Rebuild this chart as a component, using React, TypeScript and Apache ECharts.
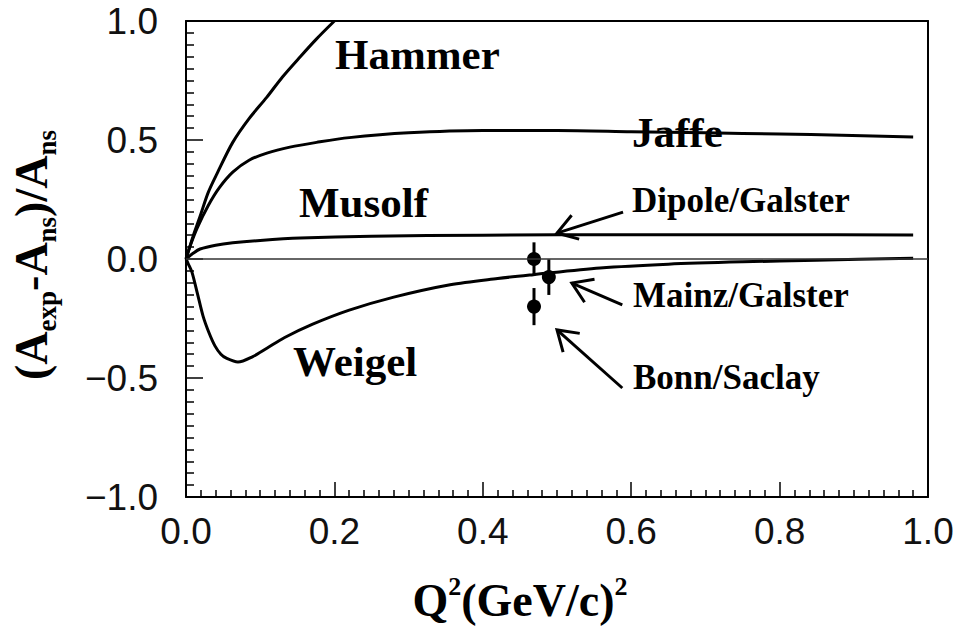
import React, { useEffect, useRef } from "react";
import * as echarts from "echarts";

// ---- data (Q^2 in (GeV/c)^2, asymmetry ratio) ----
const hammer: number[][] = [
  [0, 0], [0.005, 0.05], [0.01, 0.1], [0.019, 0.18], [0.03, 0.28], [0.042, 0.36],
  [0.063, 0.49], [0.085, 0.59], [0.109, 0.68], [0.13, 0.765], [0.154, 0.85],
  [0.176, 0.925], [0.2, 1.0],
];
const jaffe: number[][] = [
  [0, 0], [0.005, 0.05], [0.015, 0.13], [0.03, 0.225], [0.045, 0.3], [0.063, 0.365],
  [0.085, 0.415], [0.109, 0.445], [0.14, 0.47], [0.176, 0.49], [0.22, 0.51],
  [0.3, 0.53], [0.4, 0.54], [0.5, 0.54], [0.6, 0.535], [0.7, 0.53], [0.8, 0.525],
  [0.884, 0.52], [0.98, 0.513],
];
const dipole: number[][] = [
  [0, 0], [0.01, 0.025], [0.019, 0.042], [0.04, 0.058], [0.063, 0.068], [0.1, 0.078],
  [0.154, 0.088], [0.25, 0.096], [0.4, 0.1], [0.6, 0.102], [0.8, 0.102], [0.98, 0.101],
];
const weigel: number[][] = [
  [0, 0], [0.003, -0.02], [0.008, -0.055], [0.015, -0.14], [0.023, -0.24],
  [0.031, -0.31], [0.039, -0.365], [0.047, -0.4], [0.055, -0.418], [0.07, -0.433],
  [0.09, -0.41], [0.109, -0.375], [0.133, -0.33], [0.17, -0.275], [0.22, -0.215],
  [0.28, -0.16], [0.356, -0.108], [0.42, -0.082], [0.468, -0.066], [0.558, -0.038],
  [0.65, -0.022], [0.75, -0.012], [0.85, -0.005], [0.98, 0.003],
];
// [Q2, value, error]
const measurements: number[][] = [
  [0.469, 0.0, 0.07],
  [0.489, -0.076, 0.075],
  [0.469, -0.2, 0.078],
];

// curve names and their text positions (layout)
const curveLabels = [
  { text: "Hammer", x: 335, y: 54, size: 43 },
  { text: "Jaffe", x: 632, y: 132, size: 43 },
  { text: "Musolf", x: 299, y: 202, size: 43 },
  { text: "Weigel", x: 293, y: 361, size: 43 },
  { text: "Dipole/Galster", x: 632, y: 200, size: 35 },
  { text: "Mainz/Galster", x: 633, y: 295, size: 35 },
  { text: "Bonn/Saclay", x: 633, y: 377, size: 35 },
];

// arrows in data coordinates: [tailX, tailY, tipX, tipY]
const arrows: number[][] = [
  [0.589, 0.197, 0.5, 0.109],
  [0.588, -0.193, 0.52, -0.101],
  [0.588, -0.542, 0.5, -0.298],
];

const SERIF = "'Liberation Serif', 'Times New Roman', serif";
const SANS = "'Liberation Sans', Arial, sans-serif";

const fmt = (v: number) => v.toFixed(1).replace("-", "\u2212");

const tickStyle = { color: "#000", width: 1.5 };

export default function App() {
  const ref = useRef<HTMLDivElement>(null);
  useEffect(() => {
    if (!ref.current) return;
    const chart = echarts.init(ref.current, undefined, { renderer: "svg" });
    const lineSeries = (name: string, data: number[][], extra: any = {}) => ({
      name,
      type: "line",
      data,
      showSymbol: false,
      smooth: 0.3,
      clip: true,
      lineStyle: { color: "#000", width: 3 },
      silent: true,
      ...extra,
    });
    const frameAxis = (position: string) => ({
      type: "value", position, min: position === "top" ? 0 : -1, max: 1,
      axisLine: { show: true, onZero: false, lineStyle: { color: "#000", width: 2 } },
      axisTick: { show: false }, axisLabel: { show: false }, splitLine: { show: false },
    });
    chart.setOption({
      animation: false,
      backgroundColor: "#fff",
      grid: { left: 186, top: 21, width: 742, height: 476, show: false },
      xAxis: [
        {
          type: "value", position: "bottom", min: 0, max: 1, interval: 0.2,
          axisLine: { show: true, onZero: false, lineStyle: { color: "#000", width: 2 } },
          axisTick: { show: true, inside: true, length: 15, lineStyle: tickStyle },
          minorTick: { show: true, splitNumber: 10, length: 7, lineStyle: tickStyle },
          splitLine: { show: false },
          minorSplitLine: { show: false },
          axisLabel: { show: true, formatter: fmt, fontFamily: SANS, fontSize: 37, color: "#111", margin: 16 },
        },
        frameAxis("top"),
      ],
      yAxis: [
        {
          type: "value", position: "left", min: -1, max: 1, interval: 0.5,
          axisLine: { show: true, onZero: false, lineStyle: { color: "#000", width: 2 } },
          axisTick: { show: true, inside: true, length: 17, lineStyle: tickStyle },
          minorTick: { show: true, splitNumber: 10, length: 8, lineStyle: tickStyle },
          splitLine: { show: false },
          minorSplitLine: { show: false },
          axisLabel: { show: true, formatter: fmt, fontFamily: SANS, fontSize: 37, color: "#111", margin: 28 },
        },
        frameAxis("right"),
      ],
      series: [
        lineSeries("Hammer", hammer),
        lineSeries("Jaffe", jaffe),
        lineSeries("Dipole/Galster", dipole, {
          markLine: {
            silent: true, symbol: "none", label: { show: false },
            lineStyle: { color: "#333", width: 1.5, type: "solid" },
            data: [{ yAxis: 0 }],
          },
        }),
        lineSeries("Weigel", weigel),
        {
          name: "errors",
          type: "custom",
          data: measurements,
          encode: { x: 0, y: 1 },
          silent: true,
          renderItem: (_p: any, api: any) => {
            const x = api.value(0), y = api.value(1), e = api.value(2);
            const a = api.coord([x, y + e]);
            const b = api.coord([x, y - e]);
            return {
              type: "line",
              shape: { x1: a[0], y1: a[1], x2: b[0], y2: b[1] },
              style: { stroke: "#000", lineWidth: 3 },
            };
          },
          z: 3,
        },
        {
          name: "data",
          type: "scatter",
          data: measurements.map((m) => [m[0], m[1]]),
          symbol: "circle",
          symbolSize: 14,
          itemStyle: { color: "#000", opacity: 1 },
          silent: true,
          z: 4,
        },
      ],
    });

    const graphics: any[] = [];
    curveLabels.forEach((l) => {
      graphics.push({
        type: "text", x: l.x, y: l.y, silent: true,
        style: {
          text: l.text, fill: "#000", fontFamily: SERIF, fontWeight: "bold",
          fontSize: l.size, textAlign: "left", textVerticalAlign: "middle",
        },
      });
    });
    const headLen = 23, half = (33 * Math.PI) / 180;
    arrows.forEach((a) => {
      const tail = chart.convertToPixel({ gridIndex: 0 }, [a[0], a[1]]) as number[];
      const tip = chart.convertToPixel({ gridIndex: 0 }, [a[2], a[3]]) as number[];
      const ang = Math.atan2(tail[1] - tip[1], tail[0] - tip[0]);
      const h1 = [tip[0] + headLen * Math.cos(ang + half), tip[1] + headLen * Math.sin(ang + half)];
      const h2 = [tip[0] + headLen * Math.cos(ang - half), tip[1] + headLen * Math.sin(ang - half)];
      graphics.push({
        type: "polyline", silent: true,
        shape: { points: [tail, tip] },
        style: { stroke: "#000", lineWidth: 3, fill: null },
      });
      graphics.push({
        type: "polyline", silent: true,
        shape: { points: [h1, tip, h2] },
        style: { stroke: "#000", lineWidth: 3, fill: null },
      });
    });
    // y-axis title
    graphics.push({
      type: "text", x: 31, y: 255, rotation: Math.PI / 2, silent: true,
      style: {
        text: "{m|(A}{s|exp}{m|-A}{s|ns}{m|)/A}{s|ns}",
        textAlign: "center", textVerticalAlign: "middle", fill: "#000",
        rich: {
          m: { fontFamily: SERIF, fontWeight: "bold", fontSize: 46, lineHeight: 46, verticalAlign: "top" },
          s: { fontFamily: SERIF, fontWeight: "bold", fontSize: 27, lineHeight: 27, padding: [25, 0, 0, 0], verticalAlign: "top" },
        },
      },
    });
    // x-axis title
    graphics.push({
      type: "text", x: 520, y: 598, silent: true,
      style: {
        text: "{m|Q}{p|2}{m|(GeV/c)}{p|2}",
        textAlign: "center", textVerticalAlign: "middle", fill: "#000",
        rich: {
          m: { fontFamily: SERIF, fontWeight: "bold", fontSize: 46, lineHeight: 50, verticalAlign: "bottom" },
          p: { fontFamily: SERIF, fontWeight: "bold", fontSize: 26, lineHeight: 26, verticalAlign: "top" },
        },
      },
    });
    chart.setOption({ graphic: graphics });
    return () => chart.dispose();
  }, []);
  return (
    <div
      ref={ref}
      style={{ position: "fixed", left: 0, top: 0, width: 963, height: 629, background: "#fff" }}
    />
  );
}
